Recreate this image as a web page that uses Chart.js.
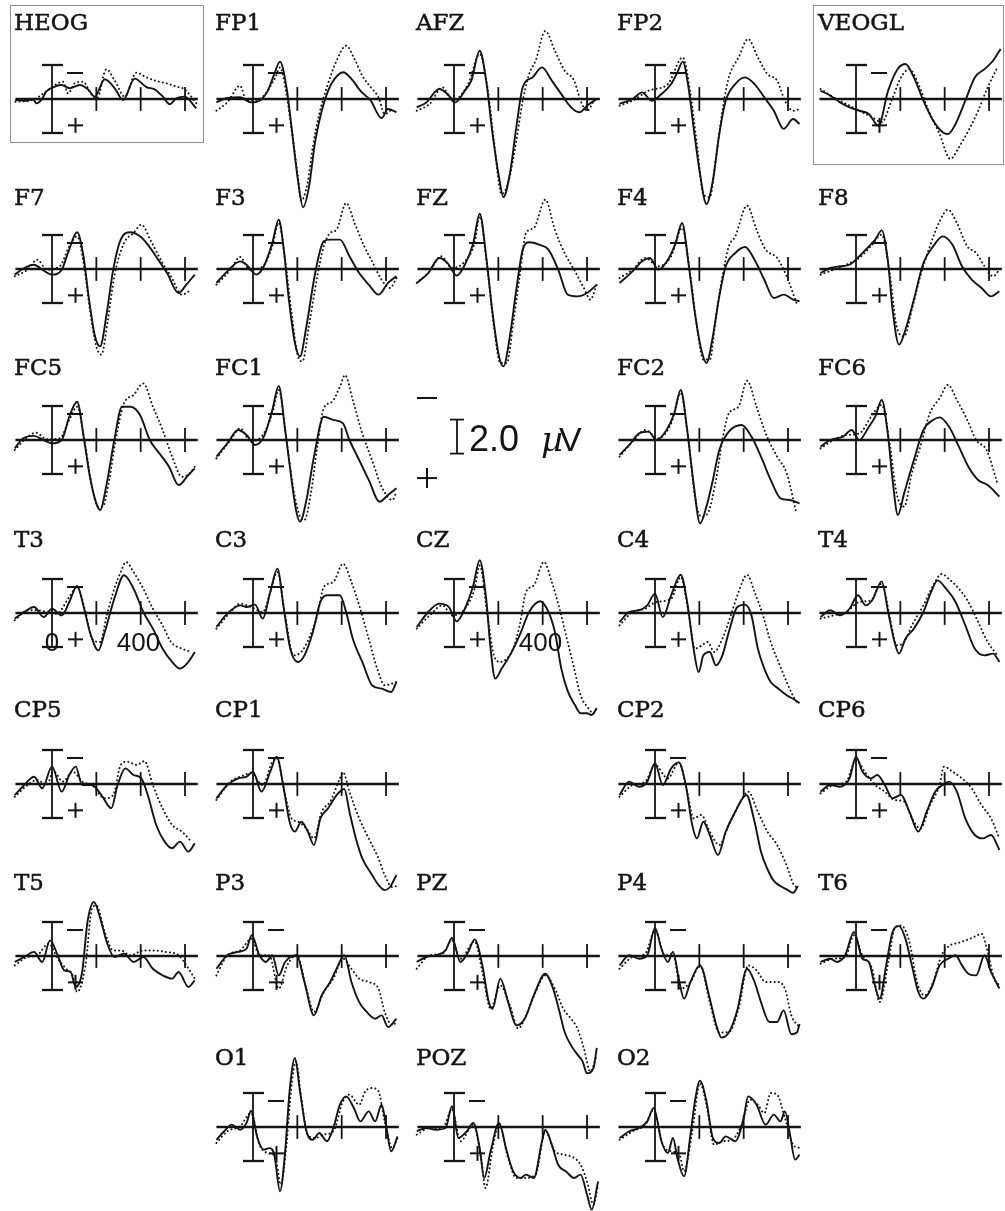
<!DOCTYPE html>
<html>
<head>
<meta charset="utf-8">
<script src="https://cdn.jsdelivr.net/npm/chart.js@4.4.1/dist/chart.umd.min.js"></script>
<style>
  html, body { margin: 0; padding: 0; background: #fff; overflow: hidden; }
  #page { position: relative; width: 1005px; height: 1211px; overflow: hidden; }
  #page canvas { position: absolute; }
  .box { position: absolute; border: 1.5px solid #8f8f8f; box-sizing: border-box; }
</style>
</head>
<body>
<div id="page">
  <div class="box" style="left:10px;top:5px;width:194px;height:138px"></div>
  <div class="box" style="left:813px;top:5px;width:191px;height:160px"></div>
</div>
<script>
// ERP-Kurven: [Zeit in ms, Amplitude in µV], positiv nach unten
const HEOG_S = [[-165,0.06],[-116,0.1],[-86,0],[-71,0.25],[-48,0.05],[-26,-0.43],[5,-0.69],[42,-0.82],[80,-0.63],[125,-0.82],[162,-0.57],[193,-0.14],[238,-1.16],[283,-0.63],[320,0.06],[373,-1.2],[426,-0.7],[463,-0.57],[500,-0.14],[531,0.3],[561,-0.04],[598,-0.14],[651,0.55]];
const HEOG_D = [[-165,0.16],[-86,0.06],[-18,-0.53],[50,-1.02],[72,-0.33],[102,-0.92],[140,-1.02],[177,-0.29],[203,-0.04],[245,-1.75],[283,-1.08],[328,-0.14],[380,-1.55],[426,-1.27],[471,-1.06],[516,-0.92],[561,-0.73],[598,-0.57],[651,0.25]];
const FP1_S = [[-165,0.2],[-116,-0.06],[-58,-0.1],[-9,0.2],[29,0.1],[67,-0.49],[96,-1.47],[122,-2.2],[151,-0.69],[174,1.67],[203,4.8],[226,6.37],[252,5.2],[281,2.45],[310,0.69],[339,-0.49],[368,-1.18],[406,-1.57],[444,-1.18],[484,-0.49],[531,0.1],[580,1.12],[609,0.59],[647,0.78]];
const FP1_D = [[-165,0.69],[-116,0.2],[-58,-0.78],[-29,0.1],[29,0],[101,-1.27],[122,-1.86],[151,-0.3],[174,1.8],[203,4.6],[217,5.98],[245,5.0],[270,2.8],[299,0.88],[333,-0.69],[377,-2.25],[420,-3.14],[458,-2.35],[493,-1.37],[531,-0.69],[566,-0.1],[594,0.88],[629,0.59]];
const AFZ_S = [[-168,0.49],[-125,0.2],[-67,-0.59],[-29,-0.29],[6,0.2],[49,-0.49],[78,-1.08],[116,-2.84],[145,-1.08],[174,2.06],[203,4.6],[223,5.78],[252,4.4],[281,1.67],[310,-0.69],[354,-1.27],[397,-1.86],[441,-1.08],[484,-0.29],[528,0.49],[566,0.78],[600,0.39],[644,0]];
const AFZ_D = [[-168,0.69],[-110,0.29],[-52,-0.69],[-9,0.1],[64,-0.88],[116,-2.65],[151,-0.69],[180,2.45],[215,5.6],[247,4.8],[281,2.45],[310,0.1],[339,-1.47],[368,-2.25],[412,-4.0],[455,-2.84],[499,-1.67],[542,-1.08],[571,0.1],[600,0.69],[638,-0.1]];
const FP2_S = [[-160,0.29],[-101,0],[-58,-0.39],[-15,0.1],[29,-0.29],[73,-0.88],[101,-1.57],[125,-2.2],[151,-0.69],[174,1.67],[203,4.4],[232,6.18],[261,4.8],[290,2.06],[319,0.1],[362,-0.88],[406,-1.27],[449,-0.88],[493,-0.1],[536,0.69],[580,1.76],[623,1.18],[652,1.47]];
const FP2_D = [[-160,0.39],[-101,0.1],[-29,-0.49],[58,-0.88],[125,-2.45],[160,-0.29],[189,2.65],[218,5.6],[247,5.78],[275,3.43],[304,0.69],[333,-1.27],[377,-2.45],[420,-3.53],[464,-2.45],[507,-1.47],[551,-1.08],[586,0.1],[623,0.69],[652,0.59]];
const VEOGL_S = [[-160,-0.49],[-116,-0.2],[-72,0.2],[-29,0.49],[15,0.69],[58,0.88],[101,1.57],[145,-0.49],[188,-1.76],[223,-2.06],[261,-1.27],[304,0.1],[348,1.27],[391,1.96],[415,2.06],[449,1.47],[493,0.1],[536,-1.27],[580,-1.76],[618,-2.25],[652,-2.94]];
const VEOGL_D = [[-160,-0.59],[-101,-0.1],[-44,0.29],[15,0.69],[73,1.08],[116,1.37],[160,0.1],[203,-1.27],[241,-1.76],[281,-0.88],[328,0.69],[377,2.06],[426,3.53],[464,2.84],[507,1.86],[551,0.69],[594,-0.69],[638,-1.86]];
const F7_S = [[-168,0.33],[-125,-0.06],[-81,-0.25],[-44,0.04],[0,0.33],[44,0.04],[72,-0.94],[113,-2.16],[142,-0.75],[165,1.6],[194,3.96],[217,4.55],[247,2.59],[276,0.04],[310,-1.73],[354,-2.16],[397,-1.92],[432,-1.43],[479,-0.55],[519,0.24],[571,1.41],[606,0.92],[644,0.33]];
const F7_D = [[-168,0.43],[-110,0.04],[-67,-0.55],[-23,0.04],[35,-0.16],[78,-1.33],[113,-1.92],[145,-0.16],[171,2.39],[200,4.55],[223,5.04],[252,2.98],[281,0.43],[325,-1.53],[368,-2.12],[403,-2.61],[447,-1.63],[499,-0.35],[537,0.43],[586,1.51],[629,1.22]];
const F3_S = [[-165,0.82],[-116,0.14],[-58,-0.45],[-29,-0.25],[15,0.33],[49,-0.16],[87,-1.53],[116,-2.9],[139,-1.14],[160,1.6],[189,4.35],[212,5.14],[241,3.37],[275,0.63],[304,-1.14],[319,-1.63],[348,-1.73],[392,-1.73],[435,-0.75],[479,0.24],[522,0.92],[566,1.51],[609,0.82],[647,0.43]];
const F3_D = [[-165,0.92],[-101,0.04],[-58,-0.71],[-15,0.04],[44,-0.16],[87,-1.33],[116,-2.71],[145,-0.55],[174,2.59],[203,5.14],[223,5.43],[252,3.37],[290,0.43],[319,-1.33],[348,-2.12],[377,-2.31],[420,-3.88],[458,-2.71],[502,-1.33],[537,-0.45],[580,0.63],[618,1.12],[647,0.53]];
const FZ_S = [[-168,0.82],[-116,0.24],[-67,-0.65],[-29,-0.35],[12,0.39],[49,-0.25],[87,-1.53],[116,-3.25],[145,-0.75],[174,2.59],[203,5.14],[223,5.73],[252,3.96],[281,1.22],[310,-1.14],[339,-1.57],[383,-1.43],[426,-1.14],[470,0.04],[513,1.51],[557,1.61],[600,1.41],[644,0.92]];
const FZ_D = [[-168,0.82],[-110,0.14],[-58,-0.75],[-9,-0.06],[49,-0.45],[93,-1.53],[116,-3.1],[151,0.04],[180,3.37],[209,5.53],[238,5.53],[267,3.18],[296,0.43],[325,-2.12],[360,-2.41],[412,-4.08],[455,-2.31],[499,-0.94],[542,0.04],[586,1.12],[615,1.8],[644,0.92]];
const F4_S = [[-160,0.82],[-101,0.14],[-58,-0.45],[-23,-0.65],[15,0.04],[58,-0.55],[93,-1.53],[122,-2.71],[151,-0.35],[180,2.59],[209,4.75],[232,5.53],[261,3.96],[290,1.61],[319,-0.16],[362,-0.94],[406,-1.29],[449,-0.55],[493,0.63],[536,1.71],[580,1.51],[623,1.8],[652,1.9]];
const F4_D = [[-160,0.53],[-101,0.04],[-44,-0.65],[15,-0.16],[73,-0.75],[122,-2.41],[160,0.43],[189,3.37],[218,5.33],[247,5.33],[275,2.78],[304,0.43],[333,-1.33],[362,-1.92],[415,-3.73],[458,-2.31],[499,-1.14],[551,-0.65],[594,0.43],[638,2.0]];
const F8_S = [[-160,0.24],[-116,-0.06],[-72,-0.16],[-29,-0.25],[15,-0.75],[58,-1.33],[87,-1.73],[116,-2.27],[145,-0.35],[165,2.39],[194,4.45],[223,3.57],[261,1.8],[304,-0.35],[348,-1.33],[391,-1.92],[435,-1.43],[478,-0.16],[522,0.63],[566,1.12],[609,1.61],[647,1.31]];
const F8_D = [[-160,0.33],[-101,0.04],[-44,-0.25],[15,-0.65],[73,-1.43],[116,-2.02],[154,0.43],[183,3.37],[217,3.96],[252,2.39],[290,0.43],[333,-1.33],[377,-2.8],[415,-3.49],[455,-2.71],[502,-1.33],[542,-0.94],[580,-0.16],[618,0.43],[647,0.04]];
const FC5_S = [[-168,0.49],[-130,-0.1],[-81,-0.24],[-38,0],[0,0.2],[44,0],[78,-1.37],[113,-2.25],[145,0],[171,2.16],[200,3.73],[217,4.12],[247,2.55],[281,0],[316,-1.96],[354,-1.96],[397,-1.47],[441,0],[484,0.78],[528,1.57],[571,2.65],[615,2.06],[644,1.67]];
const FC5_D = [[-168,0.59],[-125,0],[-72,-0.43],[-23,-0.04],[35,-0.1],[78,-1.18],[113,-1.96],[151,0.39],[180,2.75],[209,3.92],[229,3.92],[258,2.35],[287,0],[325,-2.16],[368,-2.65],[412,-3.33],[455,-1.96],[499,-0.59],[542,0.98],[586,2.16],[623,1.96],[644,1.57]];
const FC1_S = [[-165,0.98],[-116,0.2],[-67,-0.59],[-29,-0.29],[9,0.29],[49,-0.2],[87,-1.76],[116,-3.18],[145,-0.59],[174,2.35],[194,4.12],[212,4.8],[241,3.53],[275,0.98],[319,-1.37],[362,-1.18],[406,-0.98],[435,0],[479,1.18],[522,2.35],[571,3.63],[609,3.24],[647,2.84]];
const FC1_D = [[-165,1.08],[-101,0],[-58,-0.69],[-9,0.1],[49,-0.39],[87,-1.57],[116,-2.94],[151,0],[183,2.94],[212,4.51],[232,4.71],[261,3.14],[290,0.39],[319,-1.86],[357,-2.25],[392,-3.14],[415,-3.82],[450,-2.35],[493,-0.39],[537,1.18],[580,2.75],[629,3.53],[647,3.04]];
const FC2_S = [[-160,0.88],[-116,0.29],[-72,-0.39],[-29,-0.49],[6,0],[52,-0.59],[87,-1.57],[116,-2.94],[145,-0.59],[174,2.55],[203,4.9],[232,3.92],[261,2.35],[290,0.59],[333,-0.49],[391,-0.88],[435,-0.2],[478,0.98],[522,2.35],[566,3.43],[609,3.53],[652,3.73]];
const FC2_D = [[-160,0.98],[-101,0.1],[-44,-0.59],[15,-0.1],[73,-0.98],[116,-2.75],[151,0],[180,3.33],[209,4.51],[238,4.31],[275,2.35],[304,0],[333,-1.57],[377,-1.96],[415,-3.49],[458,-1.96],[499,-0.39],[551,0.98],[594,1.96],[638,4.31]];
const FC6_S = [[-160,0.39],[-116,0],[-58,-0.2],[-20,-0.59],[15,0],[58,-0.78],[87,-1.37],[116,-2.35],[145,-0.2],[165,2.35],[189,4.41],[217,3.14],[261,1.18],[304,-0.59],[348,-1.18],[377,-1.33],[420,-0.78],[464,0.39],[507,1.57],[551,2.35],[594,2.65],[647,3.33]];
const FC6_D = [[-160,0.49],[-101,0],[-44,-0.29],[15,-0.39],[73,-1.47],[116,-2.06],[154,0.39],[183,3.14],[217,3.92],[252,1.96],[290,0.39],[333,-1.57],[377,-2.45],[415,-3.24],[455,-2.35],[502,-1.18],[542,0],[589,0.59],[638,2.55]];
const T3_S = [[-168,0.33],[-125,-0.06],[-81,-0.35],[-38,0.24],[0,-0.25],[44,0.14],[78,-0.65],[113,-1.59],[145,-0.25],[171,1.12],[209,2.2],[238,1.12],[281,-0.84],[325,-2.22],[368,-1.43],[412,-0.06],[455,0.92],[499,2.1],[542,2.88],[577,3.27],[615,2.88],[644,2.29]];
const T3_D = [[-168,0.43],[-110,-0.16],[-67,-0.16],[-23,-0.06],[20,0.04],[78,-0.94],[113,-1.53],[151,-0.06],[180,1.51],[217,1.71],[247,0.14],[281,-1.43],[310,-2.41],[334,-3.0],[368,-2.41],[412,-1.43],[455,-0.25],[499,0.73],[537,1.71],[586,2.1],[629,2.29]];
const C3_S = [[-165,0.82],[-116,0.04],[-58,-0.45],[-29,-0.35],[9,-0.49],[44,0.33],[78,-1.24],[110,-2.61],[139,-0.25],[168,2.1],[203,2.88],[232,2.49],[270,1.12],[304,-0.65],[333,-1.04],[392,-1.04],[420,-0.06],[450,1.51],[493,2.88],[537,4.25],[580,4.45],[623,4.65],[647,4.06]];
const C3_D = [[-165,0.92],[-101,-0.06],[-58,-0.55],[-9,-0.35],[44,-0.06],[78,-1.24],[110,-2.41],[145,0.14],[183,2.49],[218,2.29],[252,1.51],[290,0.14],[319,-1.53],[362,-1.82],[406,-2.9],[444,-1.82],[479,-0.45],[522,1.51],[560,3.27],[595,4.25],[647,4.06]];
const CZ_S = [[-168,0.82],[-116,-0.06],[-67,-0.55],[-23,-0.35],[12,0.49],[49,-0.25],[87,-1.63],[116,-3.1],[145,-0.84],[165,2.1],[186,3.86],[215,3.27],[252,2.49],[296,1.31],[339,-0.06],[389,-0.69],[426,-0.06],[455,1.12],[484,3.27],[513,4.6],[545,5.4],[571,5.9],[600,5.9],[620,6.0],[644,5.6]];
const CZ_D = [[-168,0.92],[-110,0.14],[-52,-0.45],[-9,0.14],[49,-0.25],[93,-1.43],[116,-2.8],[151,0.14],[180,2.49],[209,2.88],[238,2.69],[267,2.1],[296,0.73],[325,-1.24],[360,-1.63],[406,-3.0],[441,-1.82],[476,-0.25],[513,1.71],[542,3.27],[571,4.84],[600,5.5],[630,5.9],[644,5.6]];
const C4_S = [[-160,0.53],[-116,-0.06],[-72,-0.16],[-35,-0.45],[0,-1.14],[35,0.24],[73,-1.04],[116,-2.25],[145,-0.65],[174,2.1],[197,3.47],[218,2.49],[247,2.29],[275,3.08],[304,2.49],[333,1.12],[371,-0.35],[406,-0.49],[435,0.14],[464,2.1],[493,3.27],[522,4.06],[557,4.45],[594,4.84],[630,5.1],[652,5.3]];
const C4_D = [[-160,0.73],[-101,-0.06],[-44,-0.25],[6,-0.65],[73,-0.84],[116,-2.12],[151,-0.06],[180,2.1],[209,1.92],[238,1.71],[267,2.29],[304,1.51],[342,0.14],[377,-1.24],[415,-2.25],[449,-1.24],[487,0.14],[522,1.71],[557,2.88],[594,4.06],[638,5.2],[652,5.3]];
const T4_S = [[-160,0.24],[-116,-0.16],[-72,0.14],[-29,-0.25],[9,-1.04],[44,-0.45],[73,-0.75],[116,-1.86],[145,-0.06],[174,1.71],[194,2.39],[223,1.51],[261,0.92],[304,-0.06],[339,-1.24],[368,-1.92],[406,-1.43],[449,-0.65],[493,0.73],[536,2.1],[580,2.49],[618,2.39],[647,2.88]];
const T4_D = [[-160,0.33],[-101,0.14],[-44,-0.06],[15,-0.65],[67,-0.75],[116,-1.73],[154,0.33],[183,1.9],[217,1.71],[252,0.73],[304,-0.45],[348,-1.63],[386,-2.29],[426,-1.92],[464,-1.43],[507,-0.65],[551,0.53],[594,1.71],[638,2.49]];
const CP5_S = [[-168,0.65],[-125,0.06],[-81,-0.43],[-44,0.25],[0,-1.02],[44,0.45],[78,-0.53],[107,-1.02],[136,0.06],[180,0.06],[223,0.65],[267,1.43],[296,0.06],[331,-0.92],[368,-0.53],[403,-0.33],[432,0.65],[470,2.41],[508,3.39],[542,3.78],[577,3.39],[615,3.98],[644,3.49]];
const CP5_D = [[-168,0.75],[-110,0.06],[-67,-0.24],[-23,0.06],[6,-0.75],[49,-0.14],[93,-0.73],[136,-0.14],[180,0.06],[238,0.84],[276,0.65],[310,-1.12],[339,-1.31],[383,-1.12],[417,-1.35],[455,0.06],[499,1.43],[542,2.41],[586,2.8],[629,3.39]];
const CP1_S = [[-165,0.84],[-116,0.06],[-67,-0.33],[-29,-0.43],[0,-0.73],[38,0.45],[78,-0.73],[107,-1.61],[136,0.06],[165,2.22],[189,2.8],[218,2.22],[247,2.8],[275,3.59],[304,2.02],[339,1.43],[377,0.65],[412,0.29],[435,1.63],[464,3.2],[493,4.37],[537,5.35],[566,5.94],[594,6.24],[618,6.06],[647,5.35]];
const CP1_D = [[-165,0.94],[-101,-0.14],[-58,-0.43],[-9,-0.63],[44,0.06],[87,-1.31],[107,-1.51],[145,0.65],[174,2.02],[203,2.22],[241,2.61],[275,3.2],[310,1.63],[348,1.04],[392,-0.33],[406,-0.69],[435,0.45],[479,2.02],[522,3.2],[566,4.37],[594,5.35],[629,6.06],[647,6.0]];
const CP2_S = [[-160,0.65],[-116,-0.14],[-72,0.16],[-35,-0.14],[0,-1.22],[35,0.06],[73,-0.92],[107,-1.27],[139,0.06],[168,2.41],[189,3.2],[218,2.22],[247,3.0],[284,4.18],[319,2.8],[362,1.63],[412,0.65],[449,2.22],[478,3.98],[507,5.0],[536,5.7],[565,6.0],[594,6.2],[623,6.4],[645,6.0]];
const CP2_D = [[-160,0.75],[-101,0.06],[-44,-0.14],[0,-1.12],[58,-0.33],[107,-1.27],[145,0.45],[174,2.02],[209,1.82],[247,2.8],[290,3.59],[333,2.41],[377,1.24],[420,0.45],[464,1.63],[507,2.8],[551,3.59],[594,4.8],[625,5.9],[645,6.1]];
const CP6_S = [[-160,0.45],[-116,0.06],[-72,0.16],[-29,-0.33],[0,-1.61],[29,-0.73],[67,-0.33],[96,-0.53],[130,0.06],[165,0.84],[203,0.65],[241,1.63],[281,2.8],[319,1.63],[357,0.45],[391,0.06],[420,-0.14],[455,0.45],[493,2.02],[536,3.0],[571,3.2],[609,3.0],[647,3.88]];
const CP6_D = [[-160,0.55],[-101,0.06],[-44,-0.14],[0,-1.41],[44,-0.63],[87,0.06],[130,0.45],[174,0.94],[217,1.04],[252,2.02],[290,2.61],[334,1.24],[377,0.06],[397,-1.02],[435,-0.73],[478,-0.33],[522,0.25],[566,1.24],[609,2.02],[647,3.2]];
const T5_S = [[-168,0.35],[-125,0.06],[-81,-0.24],[-44,0.35],[-9,-0.92],[26,-0.04],[55,0.84],[84,0.94],[107,1.82],[136,0.94],[160,-2.0],[189,-3.18],[218,-2.2],[247,-0.82],[281,0.06],[325,-0.14],[368,0.35],[412,0.06],[455,0.75],[499,1.14],[542,1.33],[571,0.94],[615,1.82],[644,1.43]];
const T5_D = [[-168,0.55],[-110,0.06],[-67,-0.04],[-15,-0.73],[26,0.16],[64,0.75],[93,1.14],[113,2.12],[151,0.55],[180,-2.78],[200,-2.98],[238,-1.41],[276,-0.33],[310,-0.33],[354,-0.04],[412,-0.33],[455,-0.33],[513,-0.24],[571,-0.04],[606,0.55],[644,1.33]];
const P3_S = [[-165,0.75],[-116,-0.04],[-67,-0.24],[-29,-0.43],[-6,-1.22],[29,-0.04],[58,0.35],[87,-0.04],[116,1.14],[145,0.35],[197,-0.04],[232,1.53],[275,3.49],[310,2.31],[348,1.53],[377,0.75],[412,-0.04],[444,1.53],[479,2.71],[513,3.29],[551,3.69],[580,3.49],[609,4.18],[647,3.69]];
const P3_D = [[-165,1.14],[-116,-0.04],[-58,-0.33],[-6,-1.02],[29,-0.04],[73,-0.04],[116,1.92],[154,0.55],[197,-0.04],[241,1.92],[275,3.29],[319,2.12],[362,1.33],[406,0.16],[444,0.75],[479,1.33],[522,1.53],[566,1.92],[594,3.29],[629,4.08],[647,3.88]];
const PZ_S = [[-168,0.35],[-125,0.06],[-81,-0.04],[-38,-0.33],[-9,-1.06],[29,0.35],[64,-0.24],[93,-0.98],[128,0.55],[157,2.71],[174,3.1],[209,1.33],[244,2.71],[281,4.08],[319,3.69],[360,2.31],[412,1.04],[447,1.92],[476,3.29],[499,4.47],[530,5.3],[557,5.8],[580,6.2],[600,6.9],[629,6.6],[644,5.4]];
const PZ_D = [[-168,0.75],[-110,-0.04],[-52,-0.14],[-9,-0.92],[29,0.16],[93,-0.86],[128,0.94],[165,3.1],[209,1.73],[252,2.9],[290,4.27],[325,3.49],[368,2.12],[412,1.14],[455,1.92],[493,3.1],[528,3.69],[557,4.27],[585,5.4],[615,6.8],[644,5.8]];
const P4_S = [[-160,0.55],[-116,-0.04],[-72,0.16],[-35,-0.04],[0,-1.65],[29,-0.43],[58,0.35],[81,-0.24],[110,1.53],[131,2.51],[160,1.53],[203,0.55],[247,2.51],[275,4.0],[300,4.8],[333,4.5],[371,3.2],[415,0.75],[449,1.53],[478,2.71],[516,3.88],[551,3.88],[580,3.2],[615,4.6],[640,4.5],[652,4.0]];
const P4_D = [[-160,0.75],[-101,0.06],[-44,-0.14],[0,-1.51],[44,-0.04],[81,-0.14],[116,1.92],[160,1.53],[203,0.55],[247,2.71],[290,4.5],[333,4.47],[377,3.1],[420,0.55],[458,0.84],[499,1.53],[551,1.53],[586,1.92],[615,3.49],[652,4.2]];
const T6_S = [[-160,0.35],[-116,0.16],[-87,0.35],[-49,-0.04],[-9,-1.41],[29,0.16],[58,0.35],[81,1.53],[107,2.51],[136,0.55],[165,-1.41],[194,-1.76],[223,-1.02],[252,0.55],[281,2.12],[304,2.51],[339,1.92],[377,0.55],[415,0.16],[449,-0.04],[478,0.55],[507,1.04],[542,1.14],[580,-0.04],[609,0.94],[647,1.92]];
const T6_D = [[-160,0.45],[-101,0.16],[-49,0.06],[-9,-1.22],[29,-0.04],[73,0.75],[107,2.71],[145,0.39],[174,-1.61],[203,-1.8],[241,-0.82],[275,1.53],[310,2.31],[348,1.53],[386,-0.04],[420,-0.59],[464,-0.78],[507,-0.98],[542,-1.18],[566,-1.31],[594,-0.24],[623,1.33],[647,1.73]];
const O1_S = [[-165,0.75],[-130,0.25],[-96,-0.14],[-58,0.16],[-29,-0.24],[-9,-0.96],[20,0.65],[49,1.33],[73,1.24],[96,1.63],[122,3.78],[145,1.43],[165,-2.1],[189,-4.06],[212,-2.1],[241,0.25],[270,0.75],[299,0.35],[333,0.84],[362,0.06],[392,-1.31],[420,-1.8],[455,-1.12],[484,-0.33],[522,-0.92],[551,-0.33],[580,-1.31],[600,-0.14],[623,1.43],[652,0.55]];
const O1_D = [[-165,0.94],[-116,0.25],[-58,-0.04],[-9,-0.82],[29,1.04],[67,1.53],[101,1.73],[125,3.39],[151,1.04],[174,-2.49],[194,-3.86],[218,-1.71],[247,0.45],[281,0.65],[319,0.45],[362,0.25],[406,-1.51],[435,-1.9],[479,-1.31],[507,-2.1],[537,-2.29],[566,-2.1],[594,-0.33],[629,1.24],[652,0.65]];
const POZ_S = [[-168,0.25],[-125,0.06],[-81,0.16],[-38,0.06],[-9,-1.22],[20,0.65],[58,0.25],[87,-0.24],[116,1.24],[136,3.0],[165,1.43],[203,-0.24],[238,1.43],[267,2.61],[301,3.0],[325,2.8],[360,3.0],[397,0.84],[412,0.16],[441,1.04],[470,2.22],[505,2.61],[542,3.0],[571,2.8],[600,3.98],[621,4.86],[650,3.2]];
const POZ_D = [[-168,0.45],[-110,0.06],[-52,0.06],[-9,-1.02],[29,0.84],[87,-0.14],[122,1.82],[142,3.59],[174,1.24],[203,-0.14],[244,1.82],[281,3.0],[319,3.0],[368,2.8],[412,0.25],[455,1.43],[499,1.63],[542,1.82],[571,2.22],[600,3.2],[629,4.57],[650,3.39]];
const O2_S = [[-160,0.65],[-116,0.25],[-72,0.06],[-35,-0.33],[-6,-1.12],[29,0.84],[58,1.53],[81,0.65],[101,1.82],[131,2.9],[160,0.45],[180,-1.51],[203,-2.73],[232,-1.51],[261,0.65],[290,0.94],[319,0.55],[362,0.84],[400,-0.53],[420,-1.8],[458,-1.31],[499,-0.14],[536,-0.73],[566,-0.33],[586,-0.92],[609,0.45],[632,1.92],[652,1.63]];
const O2_D = [[-160,0.75],[-101,0.25],[-44,-0.14],[-6,-1.02],[35,1.04],[73,1.43],[110,1.63],[131,2.61],[168,0.25],[203,-2.59],[232,-1.31],[267,1.04],[304,0.84],[348,0.75],[391,-0.14],[429,-1.61],[464,-1.31],[493,-0.82],[522,-2.0],[551,-1.9],[586,-0.53],[623,1.04],[652,1.24]];

// Achsen
const TICKS_MS = [200, 400, 600];
const AXIS_UV = 2;
const SCALE_UV = 2.0;

// Raster
const PX_MS = 0.2217, PX_UV = 17;
const AXIS_X = [52, 253, 454, 655, 856];
const BASE_Y = [99, 269, 440, 613, 784, 956, 1127];
const LABEL_Y = [30, 205, 375, 547, 717, 890, 1065];
const LEFT = 45, TOP = 95, W = 194, H = 240;

const panels = [
  ['HEOG', 0, 0, HEOG_S, HEOG_D], ['FP1', 0, 1, FP1_S, FP1_D], ['AFZ', 0, 2, AFZ_S, AFZ_D], ['FP2', 0, 3, FP2_S, FP2_D], ['VEOGL', 0, 4, VEOGL_S, VEOGL_D],
  ['F7', 1, 0, F7_S, F7_D], ['F3', 1, 1, F3_S, F3_D], ['FZ', 1, 2, FZ_S, FZ_D], ['F4', 1, 3, F4_S, F4_D], ['F8', 1, 4, F8_S, F8_D],
  ['FC5', 2, 0, FC5_S, FC5_D], ['FC1', 2, 1, FC1_S, FC1_D], ['FC2', 2, 3, FC2_S, FC2_D], ['FC6', 2, 4, FC6_S, FC6_D],
  ['T3', 3, 0, T3_S, T3_D, [0, 400]], ['C3', 3, 1, C3_S, C3_D], ['CZ', 3, 2, CZ_S, CZ_D, [400]], ['C4', 3, 3, C4_S, C4_D], ['T4', 3, 4, T4_S, T4_D],
  ['CP5', 4, 0, CP5_S, CP5_D], ['CP1', 4, 1, CP1_S, CP1_D], ['CP2', 4, 3, CP2_S, CP2_D], ['CP6', 4, 4, CP6_S, CP6_D],
  ['T5', 5, 0, T5_S, T5_D], ['P3', 5, 1, P3_S, P3_D], ['PZ', 5, 2, PZ_S, PZ_D], ['P4', 5, 3, P4_S, P4_D], ['T6', 5, 4, T6_S, T6_D],
  ['O1', 6, 1, O1_S, O1_D], ['POZ', 6, 2, POZ_S, POZ_D], ['O2', 6, 3, O2_S, O2_D]
];

const INK = '#141414';
const page = document.getElementById('page');

function seg(ctx, x1, y1, x2, y2) {
  ctx.beginPath();
  ctx.moveTo(x1, y1);
  ctx.lineTo(x2, y2);
  ctx.stroke();
}

// Achsenkreuz, Beschriftung
function decor(name, row, notes) {
  return {
    id: 'decor',
    beforeDatasetsDraw(chart) {
      const { ctx, scales: { x, y } } = chart;
      const x0 = x.getPixelForValue(0), y0 = y.getPixelForValue(0);
      ctx.save();
      ctx.strokeStyle = INK;
      ctx.fillStyle = INK;
      ctx.lineWidth = 2.3;
      seg(ctx, x.getPixelForValue(-165), y0, x.getPixelForValue(658), y0);
      ctx.lineWidth = 1.8;
      const yt = y.getPixelForValue(-AXIS_UV), yb = y.getPixelForValue(AXIS_UV);
      seg(ctx, x0, yt, x0, yb);
      ctx.lineWidth = 2.3;
      seg(ctx, x0 - 10, yt, x0 + 11, yt);
      seg(ctx, x0 - 10, yb, x0 + 11, yb);
      ctx.lineWidth = 1.8;
      TICKS_MS.forEach(t => {
        const xp = x.getPixelForValue(t);
        seg(ctx, xp, y.getPixelForValue(-0.7), xp, y.getPixelForValue(0.7));
      });
      // Polarität
      const ym = y.getPixelForValue(-1.53), yp = y.getPixelForValue(1.55);
      ctx.lineWidth = 2;
      seg(ctx, x0 + 15, ym, x0 + 31, ym);
      seg(ctx, x0 + 16, yp, x0 + 31, yp);
      seg(ctx, x0 + 23.5, yp - 7.5, x0 + 23.5, yp + 7.5);
      // Kanalname
      const ly = y0 - (BASE_Y[row] - LABEL_Y[row]);
      ctx.font = '23px "DejaVu Serif"';
      ctx.textAlign = 'left';
      ctx.textBaseline = 'alphabetic';
      ctx.lineWidth = 0.5;
      ctx.fillText(name, x0 - 38, ly);
      ctx.strokeText(name, x0 - 38, ly);
      if (notes) {
        ctx.font = '26px "Liberation Sans"';
        ctx.textAlign = 'center';
        notes.forEach(t => ctx.fillText(String(t), x.getPixelForValue(t === 0 ? 0 : t - 10), y0 + 38));
      }
      ctx.restore();
    }
  };
}

function scaleBar() {
  return {
    id: 'scalebar',
    afterDraw(chart) {
      const { ctx, scales: { x, y } } = chart;
      const x0 = x.getPixelForValue(0);
      ctx.save();
      ctx.strokeStyle = INK;
      ctx.fillStyle = INK;
      ctx.lineWidth = 2;
      const ym = y.getPixelForValue(-2.47), yp = y.getPixelForValue(2.24);
      seg(ctx, x0 - 37, ym, x0 - 17, ym);
      seg(ctx, x0 - 37, yp, x0 - 17, yp);
      seg(ctx, x0 - 27, yp - 10, x0 - 27, yp + 10);
      const y1 = y.getPixelForValue(-1.2), y2 = y.getPixelForValue(-1.2 + SCALE_UV);
      ctx.lineWidth = 1.8;
      seg(ctx, x0 + 3, y1, x0 + 3, y2);
      seg(ctx, x0 - 4, y1, x0 + 10, y1);
      seg(ctx, x0 - 4, y2, x0 + 10, y2);
      const yb = y.getPixelForValue(0.65);
      ctx.textBaseline = 'alphabetic';
      ctx.textAlign = 'left';
      ctx.font = '36px "Liberation Sans"';
      ctx.fillText(SCALE_UV.toFixed(1), x0 + 15, yb);
      ctx.font = 'italic 34px "DejaVu Serif"';
      ctx.fillText('\u00b5', x0 + 87, yb);
      ctx.font = '34px "Liberation Sans"';
      ctx.fillText('V', x0 + 105, yb);
      ctx.restore();
    }
  };
}

function makeCanvas(row, col) {
  const cv = document.createElement('canvas');
  cv.width = W;
  cv.height = H;
  cv.style.left = (AXIS_X[col] - LEFT) + 'px';
  cv.style.top = (BASE_Y[row] - TOP) + 'px';
  cv.style.width = W + 'px';
  cv.style.height = H + 'px';
  page.appendChild(cv);
  return cv;
}

function baseOptions() {
  return {
    responsive: false,
    animation: false,
    events: [],
    layout: { padding: 0 },
    plugins: { legend: { display: false }, tooltip: { enabled: false } },
    scales: {
      x: { type: 'linear', display: false, min: -LEFT / PX_MS, max: (W - LEFT) / PX_MS },
      y: { type: 'linear', display: false, reverse: true, min: -TOP / PX_UV, max: (H - TOP) / PX_UV }
    }
  };
}

function toPoints(arr) {
  return arr.map(([t, v]) => ({ x: t, y: v }));
}

panels.forEach(([name, row, col, solid, dotted, notes]) => {
  const cv = makeCanvas(row, col);
  new Chart(cv, {
    type: 'line',
    data: {
      datasets: [
        { data: toPoints(dotted), borderColor: INK, borderWidth: 2, borderDash: [0.1, 4], borderCapStyle: 'round', pointRadius: 0, cubicInterpolationMode: 'monotone', fill: false },
        { data: toPoints(solid), borderColor: INK, borderWidth: 1.9, pointRadius: 0, cubicInterpolationMode: 'monotone', fill: false }
      ]
    },
    options: baseOptions(),
    plugins: [decor(name, row, notes)]
  });
});

// Maßstab in der Mitte
new Chart(makeCanvas(2, 2), {
  type: 'line',
  data: { datasets: [] },
  options: baseOptions(),
  plugins: [scaleBar()]
});
</script>
</body>
</html>
